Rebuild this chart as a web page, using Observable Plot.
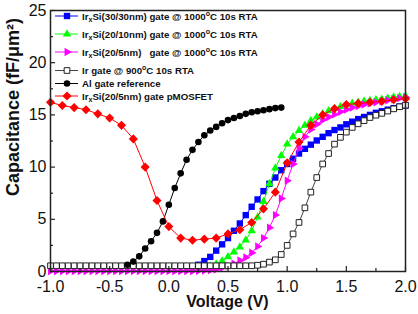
<!DOCTYPE html>
<html><head><meta charset="utf-8">
<script src="https://cdn.jsdelivr.net/npm/d3@7"></script>
<script src="https://cdn.jsdelivr.net/npm/@observablehq/plot@0.6"></script>
<style>html,body{margin:0;padding:0;background:#fff;}</style>
</head><body><div id="chart"></div>
<script>
// ---- data ----
const blueV = [0.20,0.25,0.30,0.35,0.40,0.45,0.50,0.55,0.60,0.65,0.70,0.75,0.80,0.85,0.90,0.95,1.00,1.05,1.10,1.15,1.20,1.25,1.30,1.35,1.40,1.45,1.50,1.55,1.60,1.65,1.70,1.75,1.80,1.85,1.90,1.95,2.00];
const blueC = [0.45,0.65,1.0,1.4,2.0,2.6,3.2,3.9,4.6,5.4,6.2,6.9,7.7,8.4,9.0,9.7,10.3,10.8,11.3,11.75,12.15,12.55,12.9,13.25,13.55,13.8,14.1,14.35,14.6,14.8,15.0,15.2,15.35,15.5,15.65,15.8,15.9];

const greenV = [0.20,0.25,0.30,0.35,0.40,0.45,0.50,0.55,0.60,0.65,0.70,0.75,0.80,0.85,0.90,0.95,1.00,1.05,1.10,1.15,1.20,1.25,1.30,1.35,1.40,1.45,1.50,1.55,1.60,1.65,1.70,1.75,1.80,1.85,1.90,1.95,2.00];
const greenC = [0.2,0.25,0.35,0.5,0.7,1.0,1.4,1.85,2.35,3.0,3.9,5.2,6.7,8.4,9.9,11.1,12.2,12.9,13.5,14.0,14.45,14.8,15.1,15.4,15.6,15.8,15.95,16.1,16.2,16.3,16.38,16.45,16.5,16.6,16.7,16.75,16.8];

const fullV = [-1.00,-0.95,-0.90,-0.85,-0.80,-0.75,-0.70,-0.65,-0.60,-0.55,-0.50,-0.45,-0.40,-0.35,-0.30,-0.25,-0.20,-0.15,-0.10,-0.05,0.00,0.05,0.10,0.15,0.20,0.25,0.30,0.35,0.40,0.45,0.50,0.55,0.60,0.65,0.70,0.75,0.80,0.85,0.90,0.95,1.00,1.05,1.10,1.15,1.20,1.25,1.30,1.35,1.40,1.45,1.50,1.55,1.60,1.65,1.70,1.75,1.80,1.85,1.90,1.95,2.00];
const magentaC = [0.05,0.05,0.05,0.05,0.05,0.05,0.05,0.05,0.05,0.05,0.05,0.05,0.05,0.05,0.05,0.05,0.05,0.05,0.05,0.05,0.05,0.05,0.05,0.05,0.05,0.07,0.1,0.13,0.2,0.35,0.55,0.75,1.05,1.35,1.8,2.4,3.2,4.2,5.4,7.0,8.7,10.3,11.8,12.9,13.6,14.1,14.5,14.8,15.05,15.3,15.5,15.7,15.85,16.0,16.1,16.2,16.3,16.4,16.5,16.6,16.7];
const irC = [0.55,0.55,0.55,0.55,0.55,0.55,0.55,0.55,0.55,0.55,0.55,0.55,0.55,0.55,0.55,0.55,0.55,0.55,0.55,0.55,0.55,0.55,0.55,0.55,0.55,0.55,0.55,0.55,0.55,0.55,0.55,0.55,0.55,0.55,0.55,0.6,0.7,0.9,1.12,1.63,2.5,3.6,4.7,6.1,7.6,9.0,10.3,11.3,12.2,12.85,13.35,13.8,14.15,14.45,14.75,14.97,15.15,15.37,15.58,15.78,15.93];

const alV = [-0.35,-0.30,-0.25,-0.20,-0.15,-0.10,-0.05,0.00,0.05,0.10,0.15,0.20,0.25,0.30,0.35,0.40,0.45,0.50,0.55,0.60,0.65,0.70,0.75,0.80,0.85,0.90,0.95];
const alC = [0.65,0.95,1.45,2.2,2.9,3.7,4.8,6.4,8.0,9.4,10.7,11.65,12.4,13.05,13.5,13.85,14.2,14.5,14.7,14.9,15.1,15.25,15.35,15.45,15.55,15.65,15.7];

const pmosV = [-1.0,-0.9,-0.8,-0.7,-0.6,-0.5,-0.4,-0.3,-0.2,-0.1,0.0,0.1,0.2,0.3,0.4,0.5,0.6,0.7,0.8,0.9,1.0,1.1,1.2,1.3,1.4,1.5,1.6,1.7,1.8,1.9,2.0];
const pmosC = [16.2,15.9,15.7,15.5,15.1,14.7,14.0,12.7,10.0,6.8,4.3,3.2,3.0,3.1,3.2,3.6,4.0,4.7,6.0,7.6,10.4,12.4,14.0,15.0,15.6,16.0,16.1,16.2,16.3,16.45,16.55];

const xMajor = [-1.0,-0.5,0.0,0.5,1.0,1.5,2.0];
const xMinor = [-0.75,-0.25,0.25,0.75,1.25,1.75];
const yMajor = [0,5,10,15,20,25];
const yMinor = [2.5,7.5,12.5,17.5,22.5];

const legendLabels = [
  "Ir_xSi(30/30nm) gate @ 1000^oC 10s RTA",
  "Ir_xSi(20/10nm) gate @ 1000^oC 10s RTA",
  "Ir_xSi(20/5nm)   gate @ 1000^oC 10s RTA",
  "Ir gate @ 900^oC 10s RTA",
  "Al gate reference",
  "Ir_xSi(20/5nm) gate pMOSFET"
];
const xTitle = "Voltage (V)";
const yTitle = "Capacitance (fF/\u03BCm\u00B2)";

// ---- chart ----
const W = 418, H = 314, mL = 50, mR = 13, mT = 10, mB = 43;
const fw = W - mL - mR, fh = H - mT - mB;
const FONT = "'Liberation Sans', Arial, sans-serif";
const mk = (V, C) => V.map((v, i) => ({v, c: C[i]}));
const triRight = {draw(ctx, size) {
  const s = Math.sqrt(size * 4 / Math.sqrt(3)), h = s * Math.sqrt(3) / 2;
  ctx.moveTo(2 * h / 3, 0); ctx.lineTo(-h / 3, s / 2); ctx.lineTo(-h / 3, -s / 2); ctx.closePath();
}};

const series = [
  {data: mk(blueV, blueC), symbol: "square", r: 3.6, fill: "#0000ff", mstroke: "none", line: "#0000ff"},
  {data: mk(greenV, greenC), symbol: "triangle", r: 3.1, fill: "#00ff00", mstroke: "none", line: "#00ff00"},
  {data: mk(fullV, magentaC), symbol: triRight, r: 3.1, fill: "#ff00ff", mstroke: "none", line: "#ff00ff"},
  {data: mk(fullV, irC), symbol: "square", r: 3.2, fill: "#fff", mstroke: "#222", line: "#444"},
  {data: mk(alV, alC), symbol: "circle", r: 3.3, fill: "#000", mstroke: "none", line: "#000"},
  {data: mk(pmosV, pmosC), symbol: "diamond2", r: 4.1, fill: "#ff0000", mstroke: "none", line: "#ff0000"}
];

const marks = [];
for (const s of series) {
  marks.push(Plot.line(s.data, {x: "v", y: "c", stroke: s.line, strokeWidth: 1}));
  marks.push(Plot.dot(s.data, {x: "v", y: "c", symbol: () => s.symbol, r: s.r, fill: s.fill, stroke: s.mstroke, strokeWidth: 1}));
}

const svg = Plot.plot({
  width: W, height: H,
  marginLeft: mL, marginRight: mR, marginTop: mT, marginBottom: mB,
  style: {fontFamily: FONT, background: "#fff", color: "#111"},
  x: {domain: [-1, 2]},
  y: {domain: [0, 25]},
  symbol: {type: "identity"},
  marks: [
    ...marks,
    Plot.tickX(xMajor, {x: d => d, insetTop: fh - 5, stroke: "#222", strokeWidth: 1.2}),
    Plot.tickX(xMinor, {x: d => d, insetTop: fh - 3, stroke: "#222", strokeWidth: 1.2}),
    Plot.tickY(yMajor, {y: d => d, insetRight: fw - 5, stroke: "#222", strokeWidth: 1.2}),
    Plot.tickY(yMinor, {y: d => d, insetRight: fw - 3, stroke: "#222", strokeWidth: 1.2}),
    Plot.frame({stroke: "#222", strokeWidth: 1.5}),
    Plot.axisX(xMajor, {tickSize: 0, tickPadding: 9, tickFormat: d => d.toFixed(1), fontSize: 16, label: null}),
    Plot.axisY(yMajor, {tickSize: 0, tickPadding: 4, tickFormat: d => String(d), fontSize: 16, label: null})
  ]
});

const root = d3.select(svg);
// axis titles
root.append("text").attr("x", mL + fw / 2).attr("y", 307)
  .attr("text-anchor", "middle").attr("font-family", FONT).attr("font-weight", "bold")
  .attr("font-size", 16).attr("fill", "#111").text(xTitle);
root.append("text").attr("transform", "translate(19,107) rotate(-90)")
  .attr("text-anchor", "middle").attr("font-family", FONT).attr("font-weight", "bold")
  .attr("font-size", 18).attr("fill", "#111").text(yTitle);

// ---- legend ----
const legendY = [16, 34, 52, 70.5, 83.5, 96];
const lg = root.append("g")
  .attr("font-family", FONT).attr("text-anchor", "start")
  .attr("font-weight", "bold").attr("font-size", 9.7).attr("fill", "#111");
const symType = s => typeof s === "object" ? s :
  ({square: d3.symbolSquare, triangle: d3.symbolTriangle, circle: d3.symbolCircle, diamond2: d3.symbolDiamond2})[s];
series.forEach((s, i) => {
  const y = legendY[i];
  lg.append("line").attr("x1", 55).attr("x2", 78).attr("y1", y).attr("y2", y).attr("stroke", s.line).attr("stroke-width", 1);
  lg.append("path").attr("transform", `translate(67,${y})`)
    .attr("d", d3.symbol(symType(s.symbol), s.r * s.r * Math.PI)())
    .attr("fill", s.fill).attr("stroke", s.mstroke);
  const t = lg.append("text").attr("x", 82).attr("y", y + 3.5).style("white-space", "pre");
  const parts = legendLabels[i].split(/(_x|\^o)/);
  let shift = 0;
  for (const p of parts) {
    if (!p) continue;
    if (p === "_x") { t.append("tspan").attr("dy", 2.5 - shift).attr("font-size", 7).text("x"); shift = 2.5; }
    else if (p === "^o") { t.append("tspan").attr("dy", -4 - shift).attr("font-size", 7).text("o"); shift = -4; }
    else { t.append("tspan").attr("dy", -shift).text(p); shift = 0; }
  }
});

document.getElementById("chart").appendChild(svg);
</script>
</body></html>
